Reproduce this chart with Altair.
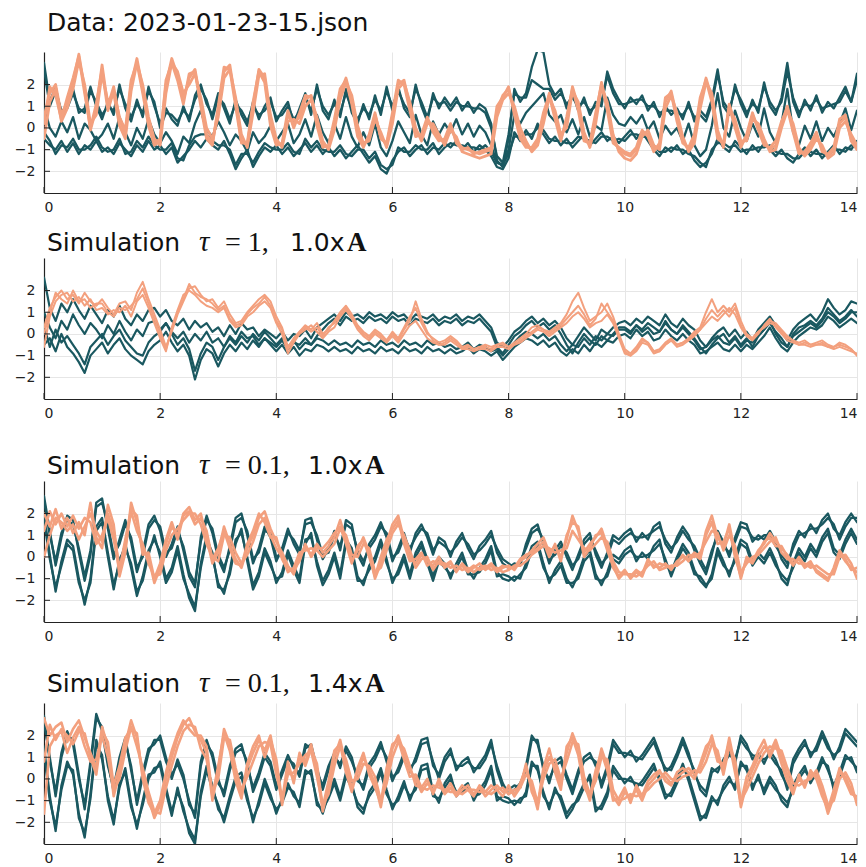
import altair as alt
import pandas as pd

# ---------------- sampling grid and axes ----------------
N_SAMPLES = 141
DT = 0.1
TIME = [round(i * DT, 1) for i in range(N_SAMPLES)]
X_TICKS = [0, 2, 4, 6, 8, 10, 12, 14]
Y_TICKS = [-2, -1, 0, 1, 2]
X_DOMAIN = [0, 14]
Y_DOMAIN = [-3, 3.5]

DARK = "#1a5860"
SALMON = "#f3a07e"

# ---------------- panel 1 : data ----------------
D1A = [3.0, 1.2, 1.9, 0.6, 1.1, 1.8, 0.7, 0.9, 1.9, 1.0,
       0.4, 1.2, 0.6, 2.0, 0.9, 0.3, 1.3, 0.5, 1.9, 1.0,
       0.2, 0.9, 0.4, 0.1, 1.0, 0.3, 1.5, 2.0, 1.1, 0.6,
       1.6, 0.9, 0.2, 1.3, 0.6, 0.1, 1.2, 0.4, 1.0, 1.4,
       0.3, 0.8, 1.2, 0.2, 0.9, 1.6, 0.6, 2.0, 0.8, 0.4,
       1.3, 0.5, 1.8, 0.7, 0.2, 1.1, 0.4, 1.5, 0.6, 1.9,
       0.8, 1.9, 0.9, 0.5, 2.0, 1.0, 0.3, 1.6, 0.9, 1.4,
       1.0, 1.4, 0.8, 1.2, 0.7, 1.1, 0.9, 0.2, -1.5, -1.8,
       -0.5, 1.8, 1.2, 1.6, 2.8, 3.6, 3.5, 2.0, 1.5, 1.8,
       0.9, 1.6, 0.8, 1.4, 0.6, 1.2, 1.0, 2.6, 1.8, 1.3,
       0.9, 1.4, 1.1, 1.5, 0.8, 1.2, 0.5, 1.0, 0.6, 0.9,
       0.4, 1.2, 0.3, 0.8, 0.5, 1.3, 2.7, 1.0, 0.6, 2.0,
       1.1, 0.5, 1.3, 0.7, 2.1, 1.0, 0.6, 1.4, 3.0, 1.2,
       0.5, 1.3, 0.8, 1.5, 0.7, 1.2, 0.9, 1.4, 1.9, 1.2,
       2.5]
D1B = [2.7, 1.0, 1.7, 0.8, 0.9, 1.6, 0.9, 0.7, 1.7, 1.2,
       0.6, 1.0, 0.8, 1.8, 1.1, 0.5, 1.1, 0.7, 1.7, 1.2,
       0.0, 0.7, 0.6, 0.3, 0.8, 0.5, 1.3, 1.8, 1.3, 0.4,
       1.4, 1.1, 0.4, 1.1, 0.8, 0.3, 1.0, 0.6, 0.8, 1.2,
       0.5, 0.6, 1.0, 0.4, 0.7, 1.4, 0.8, 1.8, 1.0, 0.6,
       1.1, 0.7, 1.6, 0.9, 0.4, 0.9, 0.6, 1.3, 0.8, 1.7,
       1.0, 1.7, 1.1, 0.7, 1.8, 1.2, 0.5, 1.4, 1.1, 1.2,
       0.8, 1.2, 1.0, 1.0, 0.9, 0.9, 0.7, 0.0, -1.3, -1.6,
       -0.3, 1.6, 1.4, 1.4, 2.2, 2.0, 1.8, 1.8, 1.3, 1.6,
       1.1, 1.4, 1.0, 1.2, 0.8, 1.0, 1.2, 2.4, 1.6, 1.1,
       1.1, 1.2, 1.3, 1.3, 1.0, 1.0, 0.7, 0.8, 0.8, 0.7,
       0.6, 1.0, 0.5, 0.6, 0.3, 1.1, 2.5, 1.2, 0.8, 1.8,
       1.3, 0.7, 1.1, 0.9, 1.9, 1.2, 0.8, 1.2, 2.6, 1.4,
       0.7, 1.1, 1.0, 1.3, 0.9, 1.0, 1.1, 1.2, 1.7, 1.2,
       2.2]
D1C = [-0.5, -0.8, -1.0, -0.6, -1.1, -0.7, -1.2, -0.8, -1.0, -0.6,
       -1.1, -0.9, -1.2, -0.7, -1.0, -1.3, -0.8, -1.1, -0.6, -1.0,
       -0.8, -1.2, -0.9, -1.6, -1.3, -1.0, -0.6, -0.9, -0.5, -0.8,
       -1.0, -0.6, -1.2, -1.9, -1.4, -1.0, -1.8, -1.3, -0.9, -1.1,
       -0.8, -1.2, -0.9, -1.3, -1.0, -0.7, -1.1, -0.8, -1.2, -0.9,
       -1.3, -1.0, -1.4, -1.1, -0.8, -1.2, -1.6, -1.3, -1.9, -2.1,
       -1.5, -1.1, -0.9, -1.3, -1.0, -0.8, -1.2, -0.9, -1.0, -0.7,
       -0.9, -0.6, -1.0, -0.7, -1.1, -0.8, -1.0, -1.3, -1.8, -1.9,
       -1.4, -0.2, -0.6, -0.1, -0.5, 0.2, -0.3, -0.7, -0.4, -0.8,
       -0.5, -0.9, -0.6, -0.3, -0.8, -0.5, -0.2, -0.6, -0.4, -0.7,
       -0.4, -0.1, -0.5, -0.2, -0.6, -1.0, -1.3, -0.9, -1.1, -0.8,
       -1.2, -1.0, -1.5, -1.8, -1.6, -1.2, -0.5, -0.9, -1.1, -0.6,
       -0.9, -1.2, -0.8, -1.1, -0.7, -1.0, -1.3, -1.0, -1.4, -1.6,
       -1.2, -0.9, -1.3, -1.0, -1.4, -1.1, -0.8, -1.2, -0.9, -1.0,
       -0.6]
D1D = [-0.2, -0.6, -1.2, -0.8, -0.9, -0.5, -1.0, -1.0, -0.8, -0.4,
       -0.9, -1.1, -1.0, -0.5, -1.2, -1.1, -0.6, -0.9, -0.4, -0.8,
       -1.0, -1.0, -0.7, -1.4, -1.5, -0.8, -0.4, -0.3, -0.3, -0.6,
       -0.8, -0.8, -1.0, -1.7, -1.2, -1.2, -1.6, -1.1, -0.7, -0.9,
       -1.0, -1.0, -0.7, -1.1, -1.2, -0.5, -0.9, -0.6, -1.0, -1.1,
       -1.1, -0.8, -1.2, -1.3, -1.0, -1.0, -1.4, -1.1, -1.7, -1.9,
       -1.7, -0.9, -1.1, -1.1, -0.8, -1.0, -1.0, -0.7, -1.2, -0.9,
       -0.7, -0.8, -0.8, -0.9, -0.9, -1.0, -0.8, -1.1, -1.6, -1.7,
       -1.2, -0.4, -0.4, -0.3, -0.3, 0.0, -0.1, -0.5, -0.6, -0.6,
       -0.7, -0.7, -0.4, -0.5, -0.6, -0.7, -0.4, -0.4, -0.6, -0.5,
       -0.6, -0.3, -0.3, -0.4, -0.4, -0.8, -1.1, -1.1, -0.9, -1.0,
       -1.0, -1.2, -1.3, -1.6, -1.8, -1.0, -0.7, -0.7, -0.9, -0.8,
       -1.1, -1.0, -1.0, -0.9, -0.9, -0.8, -1.1, -1.2, -1.2, -1.4,
       -1.4, -1.1, -1.1, -1.2, -1.2, -1.3, -1.0, -1.0, -1.1, -0.8,
       -0.8]
D1E = [1.0, 0.0, -0.4, 0.3, -0.2, 0.5, -0.5, 0.2, -0.1, -0.6,
       -0.3, 0.2, -0.5, 0.5, -0.2, -0.8, 0.0, -0.5, 0.4, -0.3,
       -0.7, -0.2, -0.6, -1.2, -0.4, -0.7, 0.2, 0.8, -0.1, -0.4,
       0.3, -0.2, -0.8, -0.3, -0.6, -1.1, -0.2, -0.7, -0.4, 0.1,
       -0.6, -0.2, 0.2, -0.7, -0.3, 0.4, -0.4, 0.6, -0.2, -0.7,
       0.2, -0.5, 0.5, -0.4, -0.9, -0.2, -0.8, 0.2, -0.9, -1.3,
       -0.6, 0.3, -0.2, -0.7, 0.6, -0.3, -0.8, 0.3, -0.3, 0.2,
       -0.2, 0.4, -0.3, 0.2, -0.4, 0.1, -0.2, -0.8, -1.6, -1.7,
       -1.0, 0.6, 0.2, 0.7, 1.0, 1.3, 1.6, 0.6, 0.3, 0.6,
       -0.2, 0.4, -0.3, 0.5, -0.4, 0.1, -0.1, 1.4, 0.6, 0.2,
       0.1, 0.5, 0.2, 0.6, -0.1, 0.3, -0.5, 0.1, -0.3, 0.0,
       -0.6, 0.2, -0.8, -1.3, -1.0, 0.1, 1.6, 0.0, -0.4, 0.8,
       0.0, -0.6, 0.2, -0.4, 0.9, -0.2, -0.7, 0.2, 1.8, -0.2,
       -0.8, 0.1, -0.5, 0.3, -0.6, 0.0, -0.4, 0.2, 0.9, -0.1,
       0.8]
S1A = [0.5, 1.6, 2.0, 0.6, 1.2, 2.1, 3.4, 1.8, -0.1, 0.9,
       2.9, 1.0, 1.9, 0.4, -0.3, 2.0, 3.2, 1.8, 0.3, -0.7,
       -0.5, 2.0, 3.2, 2.4, 1.3, 2.3, 2.7, 1.2, -0.3, -0.7,
       0.8, 2.6, 2.9, 1.2, -0.6, -0.8, 1.0, 2.7, 2.3, 0.3,
       -0.7, -0.8, 0.6, 0.2, 0.5, 1.3, 1.5, 0.3, -0.8, -0.9,
       0.2, 1.6, 2.3, 1.3, -0.2, -0.8, -0.4, 0.6, -0.4, -0.8,
       0.5, 2.0, 2.2, 1.0, -0.2, -0.4, 0.4, 0.0, -0.5, -0.6,
       0.1, -0.6, -0.9, -1.0, -1.1, -1.2, -1.1, -1.0, 0.8, 1.5,
       1.8, 0.8, -0.3, -0.8, -1.0, -0.6, 0.5, 1.6, 0.6, -0.5,
       0.3, 1.9, 1.0, -0.4, -0.8, 0.5, 2.1, 1.0, -0.5, -1.0,
       -1.2, -1.3, -1.0, -0.2, -0.3, -1.0, -0.8, 1.2, 1.7, 0.5,
       -0.6, -1.0, -0.5, 1.2, 2.3, 1.4, -0.3, -0.8, 1.1, 0.2,
       -0.8, -0.4, 0.6, 0.0, -0.7, -1.0, -0.8, 0.2, 1.0, 0.0,
       -1.1, -1.2, -0.8, -0.3, -1.0, -1.3, -1.0, 0.2, 0.5, -0.5,
       -0.9]
S1B = [-0.5, 1.2, 1.8, 0.3, 0.9, 1.8, 3.1, 2.0, 0.2, 0.6,
       2.5, 1.2, 1.6, 0.1, -0.5, 1.7, 3.0, 2.0, 0.5, -0.5,
       -0.8, 1.6, 3.0, 2.6, 1.6, 2.0, 2.5, 1.4, 0.0, -0.5,
       0.5, 2.3, 2.7, 1.4, -0.3, -0.9, 0.7, 2.4, 2.5, 0.6,
       -0.5, -0.9, 0.3, 0.4, 0.2, 1.0, 1.3, 0.5, -0.6, -1.0,
       -0.1, 1.3, 2.1, 1.5, 0.1, -0.7, -0.6, 0.4, -0.2, -0.9,
       0.2, 1.8, 2.1, 1.2, 0.0, -0.6, 0.2, 0.2, -0.3, -0.8,
       -0.1, -0.4, -1.1, -1.2, -1.3, -1.4, -1.3, -1.2, 0.5, 1.3,
       1.6, 1.0, 0.0, -0.6, -1.1, -0.8, 0.2, 1.4, 0.8, -0.3,
       0.0, 1.7, 1.2, -0.2, -0.9, 0.2, 1.9, 1.2, -0.3, -1.1,
       -1.4, -1.5, -1.2, -0.4, -0.1, -0.8, -1.0, 0.9, 1.5, 0.7,
       -0.4, -1.1, -0.7, 0.9, 2.1, 1.6, -0.1, -0.9, 0.9, 0.4,
       -0.6, -0.6, 0.4, 0.2, -0.5, -1.1, -1.0, 0.0, 0.8, 0.2,
       -0.9, -1.3, -1.0, -0.5, -0.8, -1.4, -1.2, 0.0, 0.3, -0.3,
       -0.8]
S1C = [0.2, 1.9, 1.5, 0.4, 1.4, 2.3, 3.3, 1.6, 0.0, 1.1,
       2.7, 0.8, 1.7, 0.5, -0.1, 2.2, 3.0, 1.6, 0.1, -0.8,
       -0.6, 2.2, 3.0, 2.2, 1.1, 2.5, 2.6, 1.0, -0.5, -0.8,
       1.0, 2.8, 2.7, 1.0, -0.7, -0.7, 1.2, 2.6, 2.1, 0.1,
       -0.8, -0.7, 0.8, 0.0, 0.7, 1.5, 1.4, 0.1, -0.9, -0.8,
       0.4, 1.8, 2.2, 1.1, -0.4, -0.9, -0.3, 0.7, -0.5, -0.7,
       0.7, 2.2, 2.0, 0.8, -0.4, -0.3, 0.5, -0.2, -0.6, -0.5,
       0.2, -0.7, -1.0, -0.9, -1.2, -1.1, -1.0, -0.9, 1.0, 1.4,
       1.9, 0.6, -0.5, -0.9, -0.9, -0.5, 0.7, 1.5, 0.4, -0.6,
       0.5, 1.8, 0.8, -0.6, -0.7, 0.7, 2.0, 0.8, -0.7, -0.9,
       -1.1, -1.2, -0.9, -0.1, -0.4, -1.1, -0.7, 1.4, 1.6, 0.3,
       -0.7, -0.9, -0.3, 1.4, 2.2, 1.2, -0.5, -0.7, 1.0, 0.0,
       -0.9, -0.3, 0.7, -0.1, -0.8, -0.9, -0.6, 0.3, 0.9, -0.2,
       -1.2, -1.1, -0.7, -0.2, -1.1, -1.2, -0.9, 0.4, 0.6, -0.6,
       -1.0]

# ---------------- panel 2 : tau = 1, 1.0x A ----------------
D2A = [2.6, 1.2, 0.6, 1.4, 1.0, 1.6, 1.1, 0.7, 1.3, 0.9,
       0.5, 1.1, 0.8, 1.3, 0.7, 0.4, 0.9, 0.6, 1.1, 1.2,
       0.8, 1.1, 0.6, 0.4, 0.7, 0.2, 0.6, 0.3, 0.5, 0.1,
       0.3, -0.1, 0.4, 0.0, 0.5, 0.2, 0.3, -0.1, 0.2, 0.0,
       -0.2, 0.1, -0.3, 0.0, -0.1, 0.2, -0.2, 0.3, 0.5, 0.7,
       0.9, 0.6, 1.0, 0.8, 0.9, 0.7, 1.0, 0.8, 0.9, 0.7,
       1.0, 0.8, 0.9, 0.6, 0.9, 0.8, 0.7, 0.9, 0.6, 0.8,
       0.7, 0.9, 0.6, 0.8, 0.7, 0.9, 0.6, 0.3, -0.4, -0.6,
       -0.3, 0.1, 0.3, 0.6, 0.8, 0.5, 0.7, 0.4, 0.6, 0.3,
       -0.2, -0.5, -0.1, 0.3, 0.0, -0.3, 0.2, 0.0, 0.3, 0.5,
       0.6, 0.4, 0.7, 0.5, 0.8, 0.6, 0.4, 0.9, 0.5, 0.3,
       0.7, 0.4, 0.2, -0.3, -0.6, -0.2, 0.1, 0.3, -0.1, 0.2,
       -0.2, 0.1, -0.3, 0.2, 0.5, 0.8, 0.4, 0.1, -0.3, 0.2,
       0.5, 0.7, 0.9, 0.6, 1.0, 1.6, 1.2, 0.9, 1.1, 1.5,
       1.4]
D2B = [1.0, 0.3, -0.2, 0.6, 0.2, 0.9, 0.4, 0.0, 0.5, 0.2,
       -0.2, 0.4, 0.0, 0.6, 0.1, -0.3, 0.2, -0.1, 0.5, 0.6,
       0.2, 0.5, 0.1, -0.2, 0.1, -0.4, 0.0, -0.3, 0.1, -0.4,
       -0.2, -0.6, -0.1, -0.4, 0.1, -0.2, -0.1, -0.5, -0.2, -0.4,
       -0.6, -0.3, -0.7, -0.4, -0.5, -0.2, -0.5, -0.1, 0.2, 0.5,
       0.7, 0.4, 0.8, 0.6, 0.7, 0.5, 0.8, 0.6, 0.7, 0.5,
       0.8, 0.6, 0.7, 0.4, 0.7, 0.6, 0.5, 0.7, 0.4, 0.6,
       0.5, 0.7, 0.4, 0.6, 0.5, 0.7, 0.4, 0.1, -0.6, -0.9,
       -0.5, -0.1, 0.1, 0.4, 0.6, 0.3, 0.5, 0.2, 0.4, 0.0,
       -0.5, -0.9, -0.4, 0.0, -0.3, -0.5, -0.1, -0.3, 0.0, 0.3,
       0.3, 0.1, 0.4, 0.2, 0.5, 0.3, 0.1, 0.6, 0.2, 0.0,
       0.4, 0.1, -0.2, -0.6, -0.9, -0.5, -0.2, 0.0, -0.4, -0.1,
       -0.5, -0.2, -0.6, -0.1, 0.2, 0.5, 0.1, -0.2, -0.6, 0.0,
       0.3, 0.4, 0.6, 0.4, 0.7, 1.2, 0.9, 0.6, 0.8, 1.1,
       0.8]
D2C = [-0.5, -0.2, -0.8, 0.0, -0.6, -0.9, -1.3, -1.8, -1.0, -0.7,
       -0.4, -0.9, -0.5, -0.2, -0.7, -1.0, -1.2, -1.4, -0.8, -0.5,
       -0.3, 0.1, -0.4, -0.8, -0.5, -1.0, -2.1, -1.2, -0.7, -0.9,
       -1.5, -0.9, -0.5, -0.8, -0.4, -0.7, -0.3, -0.6, -0.2, -0.5,
       -0.8, -0.5, -0.9, -0.6, -1.0, -0.7, -0.8, -0.5, -0.6, -0.8,
       -0.6, -0.8, -0.7, -0.9, -0.6, -0.8, -0.7, -0.9, -0.6, -0.8,
       -0.7, -0.9, -0.6, -0.8, -0.7, -0.9, -0.6, -0.8, -0.7, -0.9,
       -0.7, -0.9, -0.8, -0.6, -0.9, -0.7, -0.8, -1.0, -0.8, -1.2,
       -0.9, -0.6, -0.4, -0.2, -0.3, -0.5, -0.3, -0.6, -0.4, -0.8,
       -1.0, -0.7, -0.9, -0.5, -0.8, -0.4, -0.6, -0.3, -0.4, -0.1,
       0.0, -0.2, 0.2, -0.1, 0.1, -0.3, -0.2, 0.2, -0.1, -0.3,
       0.0, -0.3, -0.5, -0.9, -0.8, -0.6, -0.4, -0.7, -0.8, -0.5,
       -0.8, -0.5, -0.7, -0.4, -0.1, 0.3, -0.2, -0.6, -0.8, -0.4,
       -0.1, 0.1, 0.3, 0.2, 0.4, 0.8, 0.6, 0.3, 0.5, 0.7,
       0.5]
D2D = [0.4, -0.6, 0.2, -0.4, -0.1, -0.5, -0.9, -1.4, -0.6, -0.3,
       0.0, -0.5, -0.1, 0.2, -0.3, -0.6, -0.9, -1.0, -0.4, -0.1,
       0.1, 0.5, 0.0, -0.5, -0.2, -0.7, -1.7, -0.9, -0.4, -0.6,
       -1.2, -0.6, -0.2, -0.5, -0.1, -0.4, 0.0, -0.3, 0.1, -0.2,
       -0.5, -0.2, -0.6, -0.3, -0.7, -0.4, -0.5, -0.2, -0.3, -0.5,
       -0.3, -0.5, -0.4, -0.6, -0.3, -0.5, -0.4, -0.6, -0.3, -0.5,
       -0.4, -0.6, -0.3, -0.5, -0.4, -0.6, -0.3, -0.5, -0.4, -0.6,
       -0.5, -0.7, -0.6, -0.4, -0.7, -0.5, -0.6, -0.8, -0.7, -1.0,
       -0.7, -0.4, -0.1, 0.1, 0.0, -0.2, 0.0, -0.3, -0.1, -0.5,
       -0.8, -0.5, -0.6, -0.2, -0.5, -0.1, -0.3, 0.0, -0.1, 0.2,
       0.2, 0.0, 0.4, 0.1, 0.3, 0.0, 0.1, 0.5, 0.2, 0.0,
       0.3, 0.0, -0.3, -0.7, -0.6, -0.3, -0.1, -0.4, -0.5, -0.2,
       -0.6, -0.3, -0.4, -0.1, 0.2, 0.6, 0.0, -0.4, -0.6, -0.1,
       0.1, 0.3, 0.5, 0.3, 0.6, 1.0, 0.8, 0.5, 0.7, 1.0,
       1.0]
S2A = [0.3, 1.2, 1.7, 2.0, 1.6, 1.8, 1.4, 1.9, 1.5, 1.3,
       1.6, 1.2, 0.9, 1.4, 1.5, 1.1, 1.9, 2.4, 1.6, 0.9,
       0.2, -0.6, 0.1, 0.9, 1.5, 2.1, 2.2, 1.8, 1.5, 1.6,
       1.2, 1.5, 0.9, 0.5, 0.6, 1.0, 1.3, 1.6, 1.8, 1.5,
       0.8, 0.3, -0.6, -0.2, 0.1, 0.4, 0.2, 0.5, 0.0, 0.2,
       0.6, 1.0, 1.3, 0.9, 0.4, 0.1, -0.1, 0.2, 0.0, -0.3,
       0.1, -0.2, 0.3, 0.8, 1.2, 0.5, 0.0, -0.2, -0.4, -0.3,
       -0.1, -0.3, -0.6, -0.5, -0.7, -0.6, -0.5, -0.6, -0.5, -0.4,
       -0.6, -0.4, -0.2, 0.0, 0.3, 0.4, 0.2, 0.1, 0.3, 0.5,
       0.9, 1.5, 1.9, 1.2, 0.6, 0.8, 1.0, 1.4, 0.8, 0.0,
       -0.7, -0.9, -0.6, -0.2, -0.4, -0.8, -0.7, -0.4, -0.2, -0.5,
       -0.4, -0.2, 0.1, 0.3, 1.0, 1.6, 1.0, 1.3, 1.0, 1.4,
       0.6, 0.0, -0.2, 0.1, 0.3, 0.6, 0.5, 0.2, -0.1, -0.3,
       -0.4, -0.3, -0.5, -0.4, -0.3, -0.5, -0.6, -0.4, -0.5, -0.7,
       -1.0]
S2B = [-0.6, 0.8, 1.5, 1.8, 1.9, 1.5, 1.7, 1.3, 1.6, 1.1,
       1.2, 0.9, 1.1, 1.0, 1.3, 0.8, 1.5, 1.8, 1.2, 0.5,
       -0.2, -0.8, 0.3, 1.1, 1.8, 2.0, 1.8, 1.5, 1.3, 1.2,
       1.0, 1.2, 0.6, 0.3, 0.4, 0.8, 1.0, 1.3, 1.5, 1.2,
       0.5, 0.0, -0.9, -0.4, 0.0, 0.2, 0.4, 0.1, -0.2, 0.1,
       0.3, 0.8, 1.1, 0.7, 0.2, -0.1, -0.3, 0.0, -0.2, -0.4,
       -0.1, -0.4, 0.0, 0.4, 0.6, 0.2, -0.2, -0.4, -0.5, -0.5,
       -0.3, -0.5, -0.7, -0.7, -0.8, -0.7, -0.7, -0.8, -0.6, -0.6,
       -0.7, -0.5, -0.4, -0.2, 0.0, 0.2, 0.1, -0.1, 0.1, 0.3,
       0.5, 0.8, 1.0, 0.7, 0.3, 0.5, 0.6, 0.9, 0.5, -0.2,
       -0.9, -1.0, -0.8, -0.4, -0.5, -0.9, -0.8, -0.5, -0.3, -0.6,
       -0.5, -0.3, -0.1, 0.2, 0.5, 0.8, 0.6, 0.9, 1.2, 0.9,
       0.3, -0.1, -0.3, 0.0, 0.4, 0.7, 0.3, 0.0, -0.3, -0.4,
       -0.5, -0.5, -0.6, -0.5, -0.5, -0.6, -0.7, -0.6, -0.7, -0.8,
       -0.9]
S2C = [0.0, 1.0, 1.9, 1.6, 1.4, 2.0, 1.5, 1.6, 1.2, 1.4,
       1.4, 1.0, 0.8, 1.2, 1.1, 1.3, 1.6, 2.1, 1.4, 0.7,
       0.0, -0.7, 0.2, 1.0, 1.6, 2.3, 1.9, 1.7, 1.6, 1.4,
       1.1, 1.3, 0.7, 0.4, 0.5, 0.9, 1.2, 1.4, 1.7, 1.3,
       0.6, 0.2, -0.7, -0.3, 0.1, 0.3, 0.1, 0.3, -0.1, 0.3,
       0.5, 0.9, 1.2, 0.8, 0.3, 0.0, -0.2, 0.1, -0.1, -0.3,
       0.0, -0.3, 0.2, 0.6, 1.5, 0.7, 0.1, -0.3, -0.5, -0.4,
       -0.2, -0.4, -0.6, -0.6, -0.7, -0.6, -0.6, -0.7, -0.5, -0.5,
       -0.6, -0.5, -0.3, -0.1, 0.1, 0.3, 0.2, 0.0, 0.2, 0.4,
       0.7, 1.0, 1.3, 0.9, 0.4, 0.7, 1.4, 1.0, 0.6, -0.1,
       -0.8, -1.0, -0.7, -0.3, -0.4, -0.8, -0.8, -0.5, -0.3, -0.5,
       -0.4, -0.3, 0.0, 0.2, 0.7, 1.1, 0.8, 1.1, 0.8, 1.2,
       0.4, -0.1, -0.2, 0.1, 0.3, 0.5, 0.4, 0.1, -0.2, -0.3,
       -0.5, -0.4, -0.5, -0.5, -0.4, -0.6, -0.6, -0.5, -0.6, -0.7,
       -1.0]

# ---------------- panel 3 : tau = 0.1, 1.0x A ----------------
D3A = [2.8, 1.2, -0.4, 0.9, 1.9, 1.7, 0.2, -1.1, 0.1, 2.5,
       2.7, 1.3, -0.1, 0.8, 1.7, 0.7, -0.7, 0.2, 1.5, 1.9,
       1.2, 0.0, 0.6, 1.4, 0.3, -0.9, -1.4, 0.9, 1.9, 1.1,
       -0.1, -0.7, 0.5, 1.8, 2.0, 1.0, -0.3, 0.4, 1.4, 0.9,
       -0.2, 0.4, 1.3, 0.6, 0.1, 1.7, 1.8, 0.8, -0.1, 0.4,
       1.2, 0.3, 1.7, 1.5, 0.1, -0.4, 0.6, 1.0, 1.6, 0.9,
       -0.2, 0.4, 1.1, 0.2, 1.1, 1.5, 0.9, 0.1, 0.9, 0.7,
       0.0, 0.7, 1.1, 0.4, -0.1, 0.5, 0.8, 1.2, 0.2, -0.3,
       -0.5, -0.3, -0.4, 0.6, 1.3, 1.5, 0.6, -0.3, 0.3, 0.7,
       0.0, -0.6, 0.1, 0.8, 1.1, 0.1, -0.5, 0.2, 1.0, 0.8,
       1.1, 1.3, 0.7, 1.1, 0.8, 1.4, 1.6, 0.6, 0.2, 0.9,
       1.4, 1.0, 0.3, -0.3, -0.8, 0.1, 1.2, 0.7, 0.0, 0.9,
       1.6, 1.5, 0.7, 1.0, 0.8, 1.2, 0.7, -0.1, -0.5, 0.6,
       1.2, 0.9, 1.5, 1.1, 1.7, 2.0, 1.3, 1.0, 1.6, 2.0,
       1.6]
D3B = [2.6, 1.0, -0.2, 1.1, 1.7, 1.5, 0.4, -0.9, 0.3, 2.3,
       2.5, 1.5, 0.1, 0.6, 1.5, 0.9, -0.5, 0.0, 1.3, 1.7,
       1.4, 0.2, 0.4, 1.2, 0.5, -0.7, -1.2, 0.7, 1.7, 1.3,
       0.1, -0.5, 0.3, 1.6, 1.8, 1.2, -0.1, 0.2, 1.2, 1.1,
       0.0, 0.2, 1.1, 0.8, 0.3, 1.5, 1.6, 1.0, 0.1, 0.2,
       1.0, 0.5, 1.5, 1.3, 0.3, -0.2, 0.4, 0.8, 1.4, 1.1,
       0.0, 0.2, 0.9, 0.4, 0.9, 1.3, 1.1, 0.3, 0.7, 0.5,
       0.2, 0.5, 0.9, 0.6, 0.1, 0.3, 0.6, 1.0, 0.4, -0.1,
       -0.3, -0.5, -0.2, 0.4, 1.1, 1.3, 0.8, -0.1, 0.1, 0.5,
       0.2, -0.4, -0.1, 0.6, 0.9, 0.3, -0.3, 0.0, 0.8, 0.6,
       0.9, 1.1, 0.9, 0.9, 1.0, 1.2, 1.4, 0.8, 0.4, 0.7,
       1.2, 0.8, 0.5, -0.1, -0.6, 0.3, 1.0, 0.5, 0.2, 0.7,
       1.4, 1.3, 0.9, 0.8, 1.0, 1.0, 0.5, 0.1, -0.3, 0.4,
       1.0, 1.1, 1.3, 1.3, 1.5, 1.8, 1.5, 0.8, 1.4, 1.8,
       1.8]
D3C = [2.0, 0.1, -1.6, -0.2, 0.8, 0.5, -1.0, -2.2, -1.0, 1.4,
       1.8, 0.2, -1.3, -0.3, 0.6, -0.5, -1.8, -0.9, 0.3, 0.8,
       0.2, -1.0, -0.5, 0.5, -0.8, -1.9, -2.5, -0.3, 1.0, 0.0,
       -1.2, -1.7, -0.6, 0.8, 1.1, 0.0, -1.3, -0.7, 0.4, -0.2,
       -1.2, -0.7, 0.3, -0.4, -1.0, 0.8, 0.9, -0.2, -1.1, -0.6,
       0.2, -0.8, 0.8, 0.4, -0.9, -1.3, -0.4, 0.0, 0.8, -0.1,
       -1.2, -0.6, 0.1, -0.8, 0.2, 0.7, -0.1, -0.9, 0.0, -0.3,
       -1.0, -0.3, 0.2, -0.6, -1.0, -0.5, -0.1, 0.5, -0.7, -1.0,
       -1.1, -0.9, -1.0, -0.3, 0.5, 0.7, -0.3, -1.2, -0.6, -0.2,
       -1.0, -1.4, -0.8, 0.0, 0.3, -0.8, -1.3, -0.7, 0.1, -0.1,
       0.3, 0.5, -0.2, 0.2, -0.1, 0.5, 0.8, -0.3, -0.7, 0.0,
       0.6, 0.2, -0.6, -1.1, -1.4, -0.8, 0.4, -0.2, -0.9, 0.0,
       0.8, 0.6, -0.2, 0.2, -0.1, 0.4, -0.2, -1.0, -1.3, -0.3,
       0.4, 0.0, 0.6, 0.2, 0.9, 1.3, 0.4, 0.1, 0.8, 1.3,
       0.8]
D3D = [1.7, -0.1, -1.4, -0.4, 0.6, 0.3, -1.2, -2.0, -1.2, 1.2,
       1.6, 0.0, -1.5, -0.1, 0.4, -0.3, -1.6, -1.1, 0.1, 1.0,
       0.0, -1.2, -0.7, 0.3, -1.0, -1.7, -2.3, -0.5, 0.8, 0.2,
       -1.4, -1.5, -0.8, 0.6, 1.3, -0.2, -1.5, -0.9, 0.2, -0.4,
       -1.0, -0.9, 0.1, -0.6, -1.2, 0.6, 1.1, -0.4, -1.3, -0.8,
       0.0, -1.0, 0.6, 0.2, -1.1, -1.1, -0.6, -0.2, 0.6, -0.3,
       -1.0, -0.8, -0.1, -1.0, 0.0, 0.5, -0.3, -1.1, -0.2, -0.5,
       -0.8, -0.5, 0.0, -0.8, -0.8, -0.7, -0.3, 0.3, -0.9, -0.8,
       -0.9, -1.1, -0.8, -0.5, 0.3, 0.5, -0.5, -1.0, -0.8, -0.4,
       -1.2, -1.2, -1.0, -0.2, 0.1, -1.0, -1.1, -0.9, -0.1, -0.3,
       0.1, 0.3, 0.0, 0.0, 0.1, 0.3, 0.6, -0.1, -0.9, -0.2,
       0.4, 0.0, -0.8, -0.9, -1.3, -1.0, 0.2, -0.4, -0.7, -0.2,
       0.6, 0.4, -0.4, 0.0, -0.3, 0.2, -0.4, -0.8, -1.1, -0.5,
       0.2, -0.2, 0.4, 0.0, 0.7, 1.1, 0.2, -0.1, 0.6, 1.1,
       0.6]
S3A = [2.0, 1.4, 2.2, 1.3, 1.8, 1.1, 1.6, 1.0, 2.5, 0.9,
       0.4, 2.4, 1.5, -0.9, 0.2, 2.5, 1.6, 0.3, 0.0, -1.2,
       -0.5, 0.6, 1.4, 1.0, 2.0, 2.3, 1.7, 2.0, 0.9, -0.3,
       0.2, 1.4, 0.6, -0.1, -0.5, 0.4, 1.0, 1.8, 2.1, 1.3,
       0.7, 0.2, -0.4, -0.8, 0.0, 0.5, 0.1, 0.6, 0.2, 0.5,
       0.9, 1.7, 0.8, -0.2, 0.3, 0.9, 0.2, -1.0, -0.3, 0.6,
       1.5, 1.9, 0.8, 0.0, -0.3, 0.1, -0.2, -0.4, 0.0, -0.5,
       -0.3, -0.6, -0.4, -0.7, -0.5, -0.3, -0.6, -0.4, -0.7, -0.5,
       -0.4, -0.6, -0.2, 0.0, 0.3, 0.6, 0.9, 0.2, 0.5, 0.0,
       0.8, 1.9, 1.2, 0.2, 0.6, 0.9, 1.3, 0.5, -0.5, -0.9,
       -0.6, -1.0, -0.7, -0.9, -0.2, -0.4, -0.5, -0.3, -0.6, -0.2,
       0.0, -0.1, 0.2, 0.0, 1.2, 1.9, 0.9, 0.5, 1.5, 0.2,
       -1.0, 0.0, -0.2, 0.3, 0.6, 1.1, 0.7, 0.4, 0.1, -0.3,
       -0.1, -0.5, -0.3, -0.6, -0.8, -1.0, -0.6, 0.2, -0.2, -0.5,
       -0.7]
S3B = [0.0, 1.0, 1.8, 1.6, 1.2, 1.5, 0.8, 1.4, 2.0, 1.2,
       0.7, 2.0, 1.2, -0.5, 0.5, 2.1, 1.2, 0.6, -0.3, -0.9,
       -0.8, 0.3, 1.0, 1.3, 1.7, 2.0, 2.0, 1.5, 0.6, 0.0,
       -0.2, 1.0, 0.9, 0.2, -0.3, 0.1, 0.7, 1.5, 1.8, 1.0,
       0.4, 0.0, -0.7, -0.5, 0.2, 0.3, 0.4, 0.3, 0.0, 0.3,
       0.6, 1.3, 1.0, 0.1, 0.0, 0.6, 0.4, -0.7, -0.5, 0.3,
       1.1, 1.5, 1.0, 0.3, -0.5, -0.1, 0.0, -0.6, -0.2, -0.3,
       -0.5, -0.4, -0.6, -0.5, -0.7, -0.5, -0.4, -0.6, -0.5, -0.7,
       -0.6, -0.4, -0.4, -0.2, 0.1, 0.3, 0.5, 0.4, 0.2, 0.3,
       0.4, 1.2, 0.8, 0.4, 0.3, 0.6, 0.9, 0.7, -0.2, -0.7,
       -0.8, -0.8, -0.9, -0.7, -0.4, -0.2, -0.6, -0.5, -0.4, -0.4,
       -0.2, 0.1, 0.0, 0.2, 0.7, 1.2, 1.1, 0.3, 1.0, 0.5,
       -0.7, -0.3, 0.0, 0.1, 0.4, 0.7, 0.9, 0.2, -0.1, -0.1,
       -0.3, -0.3, -0.5, -0.4, -0.6, -0.8, -0.8, 0.0, 0.1, -0.3,
       -1.0]
S3C = [1.2, 2.1, 1.5, 2.0, 1.4, 1.9, 1.3, 1.8, 1.6, 0.6,
       1.0, 1.8, 0.8, -0.6, 0.8, 2.2, 1.9, 0.1, 0.2, -1.0,
       -0.3, 0.8, 1.6, 0.8, 1.9, 2.1, 1.5, 1.8, 1.2, -0.1,
       0.4, 1.2, 0.4, -0.3, -0.4, 0.6, 1.2, 2.0, 1.6, 0.9,
       0.9, -0.1, -0.6, -0.6, -0.2, 0.6, 0.0, 0.4, 0.4, 0.7,
       1.1, 1.4, 0.6, -0.3, 0.5, 0.8, 0.0, -0.9, 0.0, 0.8,
       1.3, 1.7, 0.6, -0.2, -0.1, 0.2, -0.4, -0.2, -0.3, -0.4,
       -0.2, -0.7, -0.3, -0.6, -0.4, -0.6, -0.5, -0.3, -0.6, -0.4,
       -0.5, -0.5, -0.1, 0.1, 0.2, 0.4, 0.7, 0.0, 0.6, -0.2,
       1.0, 1.6, 1.4, 0.0, 0.4, 1.0, 1.1, 0.3, -0.4, -1.0,
       -0.7, -0.9, -0.6, -0.8, -0.1, -0.5, -0.3, -0.4, -0.5, -0.3,
       0.1, -0.2, 0.1, -0.1, 1.0, 1.6, 0.6, 0.7, 1.3, 0.0,
       -0.9, -0.1, -0.3, 0.2, 0.7, 0.9, 0.5, 0.5, 0.0, -0.4,
       0.0, -0.4, -0.2, -0.7, -0.9, -1.1, -0.5, 0.3, -0.1, -0.6,
       -0.5]

# ---------------- panel 4 : tau = 0.1, 1.4x A ----------------
D4A = [2.9, 0.8, -0.6, 1.2, 2.2, 1.6, 0.0, -1.2, 0.8, 3.0,
       2.2, 0.6, -0.4, 1.0, 1.9, 0.4, -1.0, 0.3, 1.4, 1.6,
       2.0, 1.0, 0.0, 0.9, 0.2, -1.2, -1.6, 0.8, 1.8, 1.0,
       -0.2, -0.6, 0.6, 1.4, 1.6, 0.6, -0.4, 0.3, 1.2, 0.8,
       -0.3, 0.4, 1.1, 0.5, 0.3, 1.6, 1.4, 0.3, -0.3, 0.6,
       1.2, 0.5, 1.5, 1.0, -0.1, -0.3, 0.7, 1.1, 1.7, 0.8,
       -0.1, 0.5, 1.2, 0.3, 1.0, 1.8, 1.9, 0.6, 0.2, 1.0,
       1.4, 0.4, 0.8, 1.0, 0.3, 0.7, 1.1, 1.8, 0.4, -0.4,
       -0.5, -0.3, -0.4, 0.6, 2.0, 1.6, 0.6, -0.2, 0.8, 1.0,
       0.2, -0.5, 0.4, 1.0, 1.2, 0.6, -0.2, 0.6, 1.8, 1.4,
       1.0, 1.3, 0.8, 1.1, 1.5, 1.9, 1.2, 0.3, 0.6, 1.2,
       1.9, 1.2, 0.2, -0.3, -0.6, 0.5, 0.3, 0.9, 1.3, 0.7,
       2.0, 1.6, 0.9, 1.2, 0.7, 1.3, 0.9, 0.2, -0.3, 0.9,
       1.4, 1.8, 1.0, 1.5, 2.2, 1.6, 0.9, 1.5, 2.3, 2.0,
       1.7]
D4B = [2.6, 1.0, -0.8, 1.0, 2.0, 1.8, 0.2, -1.4, 0.6, 2.8,
       2.4, 0.8, -0.6, 0.8, 1.7, 0.6, -1.2, 0.1, 1.2, 1.8,
       1.8, 0.8, 0.2, 0.7, 0.0, -1.0, -1.8, 0.6, 1.6, 1.2,
       0.0, -0.8, 0.4, 1.2, 1.4, 0.8, -0.6, 0.1, 1.0, 0.6,
       -0.5, 0.2, 0.9, 0.7, 0.1, 1.4, 1.6, 0.5, -0.5, 0.4,
       1.0, 0.7, 1.3, 0.8, 0.1, -0.5, 0.5, 0.9, 1.5, 1.0,
       0.1, 0.3, 1.0, 0.5, 0.8, 1.6, 1.7, 0.8, 0.0, 0.8,
       1.2, 0.6, 0.6, 0.8, 0.5, 0.5, 0.9, 1.6, 0.6, -0.2,
       -0.7, -0.5, -0.2, 0.4, 1.8, 1.8, 0.4, 0.0, 0.6, 0.8,
       0.0, -0.7, 0.2, 0.8, 1.0, 0.8, -0.4, 0.4, 1.6, 1.2,
       1.2, 1.1, 1.0, 0.9, 1.3, 1.7, 1.0, 0.5, 0.4, 1.0,
       1.7, 1.0, 0.4, -0.5, -0.8, 0.3, 0.5, 0.7, 1.1, 0.9,
       1.8, 1.4, 1.1, 1.0, 0.9, 1.1, 0.7, 0.4, -0.5, 0.7,
       1.2, 1.6, 1.2, 1.3, 2.0, 1.4, 1.1, 1.3, 2.1, 1.8,
       1.5]
D4C = [1.5, -0.8, -2.4, -0.3, 0.8, 0.2, -1.6, -2.7, -0.7, 1.8,
       0.9, -0.8, -1.9, -0.4, 0.5, -1.1, -2.3, -1.0, 0.2, 0.3,
       0.8, -0.4, -1.5, -0.6, -1.3, -2.5, -3.0, -0.6, 0.6, -0.3,
       -1.4, -1.8, -0.8, 0.1, 0.3, -0.8, -2.0, -1.0, 0.0, -0.7,
       -1.6, -0.9, -0.2, -0.8, -1.1, 0.4, 0.2, -1.0, -1.6, -0.7,
       0.0, -0.8, 0.3, -0.2, -1.3, -1.6, -0.6, -0.2, 0.5, -0.5,
       -1.4, -0.8, -0.1, -1.0, -0.3, 0.6, 0.7, -0.6, -1.1, -0.2,
       0.2, -0.8, -0.4, -0.2, -1.0, -0.5, -0.1, 0.6, -0.8, -1.0,
       -1.1, -1.0, -1.1, -0.6, 0.8, 0.4, -0.6, -1.4, -0.4, -1.0,
       -1.8, -1.4, -0.8, -0.2, 0.0, -1.5, -1.2, -0.6, 0.6, 0.2,
       -0.2, 0.1, -0.4, -0.1, 0.3, 0.7, -0.1, -0.9, -0.6, 0.0,
       0.7, -0.1, -1.0, -1.9, -1.6, -0.8, -1.2, -0.3, 0.1, -0.5,
       0.8, 0.4, -0.3, 0.0, -0.5, 0.1, -0.3, -1.0, -1.3, -0.3,
       0.2, 0.6, -0.2, 0.3, 1.0, 0.4, -0.3, 0.3, 1.1, 0.8,
       0.5]
D4D = [1.2, -1.0, -2.2, -0.5, 0.6, 0.4, -1.8, -2.5, -0.9, 1.6,
       1.1, -1.0, -2.1, -0.2, 0.3, -1.3, -2.1, -1.2, 0.0, 0.5,
       0.6, -0.6, -1.7, -0.4, -1.5, -2.3, -2.8, -0.8, 0.4, -0.5,
       -1.2, -2.0, -1.0, -0.1, 0.1, -1.0, -1.8, -1.2, -0.2, -0.9,
       -1.4, -1.1, -0.4, -0.6, -1.3, 0.2, 0.4, -1.2, -1.4, -0.9,
       -0.2, -1.0, 0.1, -0.4, -1.1, -1.4, -0.8, -0.4, 0.3, -0.7,
       -1.2, -1.0, -0.3, -0.8, -0.5, 0.4, 0.5, -0.8, -0.9, -0.4,
       0.0, -0.6, -0.6, -0.4, -0.8, -0.7, -0.3, 0.4, -1.0, -0.8,
       -0.9, -1.2, -0.9, -0.8, 0.6, 0.6, -0.8, -1.2, -0.6, -0.8,
       -1.6, -1.2, -1.0, -0.4, 0.2, -1.3, -1.4, -0.8, 0.4, 0.0,
       0.0, -0.1, -0.2, -0.3, 0.1, 0.5, 0.1, -0.7, -0.8, -0.2,
       0.5, 0.1, -0.8, -1.7, -1.8, -1.0, -1.0, -0.5, -0.1, -0.3,
       0.6, 0.6, -0.5, 0.2, -0.7, -0.1, -0.5, -0.8, -1.1, -0.5,
       0.0, 0.4, 0.0, 0.1, 0.8, 0.6, -0.5, 0.1, 0.9, 1.0,
       0.3]
S4A = [2.8, 2.0, 2.4, 2.6, 1.7, 2.3, 2.7, 1.9, 1.2, 0.5,
       2.4, 1.5, -0.8, 0.3, 1.6, 2.7, 1.9, 0.2, -0.9, -1.8,
       -1.2, 0.0, 1.0, 1.9, 2.5, 2.8, 2.2, 1.8, 1.2, -1.0,
       0.4, 2.3, 1.6, 0.2, -0.8, 0.5, 1.2, 1.8, 1.3, 2.0,
       0.6, -1.2, 0.5, 0.0, 1.0, 0.8, 1.6, 0.4, -1.5, -0.4,
       1.0, 1.8, 0.6, -0.4, 0.3, 1.0, 0.4, -0.2, -1.3, 0.2,
       1.4, 2.0, 1.2, 0.4, 0.0, -0.6, -0.2, -0.5, -0.2, -0.7,
       -0.4, -0.8, -0.5, -0.3, -0.7, -0.4, -0.8, -0.5, -0.3, -0.6,
       -0.5, -0.7, -0.2, 0.5, -0.4, -1.4, 0.3, 1.0, 0.6, -0.3,
       1.2, 2.1, 1.4, -0.2, -1.0, 0.2, 1.4, 0.6, -0.8, -1.2,
       -0.6, -0.9, -0.5, -1.0, -0.3, 0.0, 0.3, 0.1, -0.2, 0.1,
       0.3, 0.5, 0.2, 0.5, 1.2, 2.0, 1.0, 0.5, 1.9, 0.6,
       -1.3, -0.2, 0.4, 1.0, 1.5, 1.2, 1.8, 1.0, 0.2, -0.5,
       0.0, -0.3, 0.2, 0.2, -0.6, -1.6, -0.8, 0.3, 0.1, -0.5,
       -1.0]
S4B = [-1.6, 1.5, 2.0, 2.2, 1.2, 1.9, 2.4, 1.5, 0.8, 0.9,
       2.0, 1.0, -0.5, 0.0, 1.3, 2.4, 1.5, 0.5, -0.6, -1.5,
       -1.6, -0.4, 0.6, 1.5, 2.2, 2.5, 2.4, 1.4, 0.9, -0.6,
       0.0, 1.9, 1.8, 0.5, -0.5, 0.1, 0.8, 1.5, 1.7, 1.6,
       0.2, -0.9, 0.2, 0.3, 0.7, 1.1, 1.3, 0.1, -1.2, -0.7,
       0.6, 1.5, 0.9, -0.1, 0.0, 0.7, 0.6, 0.1, -1.0, -0.2,
       1.0, 1.7, 1.4, 0.6, -0.3, -0.4, -0.5, -0.3, -0.4, -0.5,
       -0.6, -0.6, -0.7, -0.5, -0.5, -0.6, -0.6, -0.7, -0.5, -0.4,
       -0.7, -0.5, -0.4, 0.2, -0.1, -1.1, 0.0, 0.7, 0.9, 0.0,
       0.8, 1.7, 1.6, 0.1, -0.7, -0.1, 1.0, 0.9, -0.5, -1.0,
       -0.9, -0.7, -0.8, -0.7, -0.5, -0.2, 0.0, 0.3, 0.0, -0.1,
       0.1, 0.2, 0.4, 0.3, 0.8, 1.6, 1.3, 0.2, 1.5, 0.9,
       -1.0, -0.5, 0.1, 0.7, 1.2, 1.5, 1.4, 1.3, 0.5, -0.2,
       -0.3, -0.1, 0.0, 0.4, -0.3, -1.2, -1.0, 0.0, 0.3, -0.2,
       -1.2]
S4C = [0.8, 2.5, 1.8, 2.3, 2.0, 1.6, 2.2, 2.1, 1.0, 0.2,
       2.2, 1.7, -0.3, 0.6, 1.9, 2.3, 2.1, 0.0, -1.1, -1.6,
       -1.0, 0.3, 1.3, 2.1, 2.7, 2.3, 2.0, 2.0, 1.5, -0.8,
       0.6, 2.1, 1.3, -0.1, -0.9, 0.7, 1.5, 2.0, 1.0, 1.8,
       0.9, -1.0, 0.8, -0.2, 1.2, 0.6, 1.4, 0.7, -1.3, -0.1,
       1.3, 1.6, 0.3, -0.6, 0.5, 1.2, 0.2, -0.4, -1.1, 0.5,
       1.6, 1.8, 0.9, 0.1, 0.2, -0.4, 0.0, -0.7, 0.0, -0.6,
       -0.2, -0.7, -0.3, -0.5, -0.8, -0.3, -0.6, -0.3, -0.5, -0.8,
       -0.3, -0.8, -0.4, 0.7, -0.6, -1.2, 0.5, 1.4, 0.3, -0.5,
       1.5, 1.9, 1.1, -0.4, -0.8, 0.4, 1.2, 0.4, -1.0, -0.9,
       -0.4, -1.1, -0.3, -0.8, -0.1, 0.2, 0.4, -0.1, -0.3, 0.3,
       0.5, 0.3, 0.0, 0.7, 1.5, 1.8, 0.8, 0.7, 1.7, 0.3,
       -1.1, 0.1, 0.6, 1.3, 1.8, 1.0, 1.6, 0.7, -0.1, -0.7,
       0.2, -0.4, 0.4, 0.0, -0.8, -1.4, -0.5, 0.5, -0.1, -0.7,
       -0.8]

# ---------------- panel definitions ----------------
SANS = "DejaVu Sans"
SERIF = "Liberation Serif"

PANELS = [
    dict(dark=[D1A, D1B, D1C, D1D, D1E], salmon=[S1A, S1B, S1C],
         dw=2.3, sw=2.8, top=52, bottom=28, base=-21,
         title=[("Data: 2023-01-23-15.json", 3, SANS, 25, "normal", "normal")]),
    dict(dark=[D2A, D2B, D2C, D2D], salmon=[S2A, S2B, S2C],
         dw=2.2, sw=2.0, top=37, bottom=28, base=-7,
         title=[("Simulation", 3, SANS, 25, "normal", "normal"),
                ("τ", 155, SERIF, 29, "italic", "normal"),
                ("= 1,", 181, SERIF, 28, "normal", "normal"),
                ("1.0x", 246, SANS, 25, "normal", "normal"),
                ("A", 303, SERIF, 27, "normal", "bold")]),
    dict(dark=[D3A, D3B, D3C, D3D], salmon=[S3A, S3B, S3C],
         dw=2.3, sw=2.6, top=54, bottom=28, base=-7,
         title=[("Simulation", 3, SANS, 25, "normal", "normal"),
                ("τ", 155, SERIF, 29, "italic", "normal"),
                ("= 0.1,", 181, SERIF, 28, "normal", "normal"),
                ("1.0x", 264, SANS, 25, "normal", "normal"),
                ("A", 321, SERIF, 27, "normal", "bold")]),
    dict(dark=[D4A, D4B, D4C, D4D], salmon=[S4A, S4B, S4C],
         dw=2.3, sw=2.6, top=53, bottom=20, base=-11,
         title=[("Simulation", 3, SANS, 25, "normal", "normal"),
                ("τ", 155, SERIF, 29, "italic", "normal"),
                ("= 0.1,", 181, SERIF, 28, "normal", "normal"),
                ("1.4x", 264, SANS, 25, "normal", "normal"),
                ("A", 321, SERIF, 27, "normal", "bold")]),
]

W = 813
H = 141


def frame(lines, prefix):
    rows = []
    for k, vals in enumerate(lines):
        for t, v in zip(TIME, vals):
            rows.append({"t": t, "v": v, "id": f"{prefix}{k}"})
    return pd.DataFrame(rows)


def xenc(field="t"):
    return alt.X(f"{field}:Q", scale=alt.Scale(domain=X_DOMAIN, nice=False, zero=False),
                 axis=alt.Axis(values=X_TICKS, title=None, ticks=False, labelPadding=7,
                               grid=True, format="d"))


def yenc(field="v"):
    return alt.Y(f"{field}:Q", scale=alt.Scale(domain=Y_DOMAIN, nice=False, zero=False),
                 axis=alt.Axis(values=Y_TICKS, title=None, ticks=False, labelPadding=9,
                               grid=True, format="d"))


one = pd.DataFrame({"k": [0]})


def make_panel(p):
    dark = alt.Chart(frame(p["dark"], "d")).mark_line(
        clip=True, color=DARK, strokeWidth=p["dw"], strokeJoin="round", strokeCap="round"
    ).encode(x=xenc(), y=yenc(), detail="id:N")
    salmon = alt.Chart(frame(p["salmon"], "s")).mark_line(
        clip=True, color=SALMON, strokeWidth=p["sw"], strokeJoin="round", strokeCap="round"
    ).encode(x=xenc(), y=yenc(), detail="id:N")
    xt = alt.Chart(pd.DataFrame({"t": X_TICKS})).mark_rule(color="#222", strokeWidth=1).encode(
        x=xenc(), y=alt.value(H), y2=alt.value(H - 6))
    yt = alt.Chart(pd.DataFrame({"v": Y_TICKS})).mark_rule(color="#222", strokeWidth=1).encode(
        y=yenc(), x=alt.value(0), x2=alt.value(6))
    spacer = alt.Chart(one).mark_rule(opacity=0, strokeOpacity=0).encode(
        x=alt.value(-44), y=alt.value(-p["top"]), y2=alt.value(H + p["bottom"]))
    texts = []
    for (txt, px, font, size, style, weight) in p["title"]:
        texts.append(alt.Chart(one).mark_text(
            text=txt, align="left", baseline="alphabetic", font=font, fontSize=size,
            fontStyle=style, fontWeight=weight, color="#111"
        ).encode(x=alt.value(px), y=alt.value(p["base"])))
    return alt.layer(spacer, dark, salmon, xt, yt, *texts).properties(width=W, height=H)


chart = alt.vconcat(*[make_panel(p) for p in PANELS], spacing=0).properties(
    padding=0
).configure_view(stroke=None).configure_axis(
    labelFont=SANS, labelFontSize=14, labelColor="#222",
    domainColor="#222", domainWidth=1.2,
    gridColor="#e6e6e6", gridWidth=1,
)

chart.save("out.html", embed_options={"renderer": "svg", "actions": False})
